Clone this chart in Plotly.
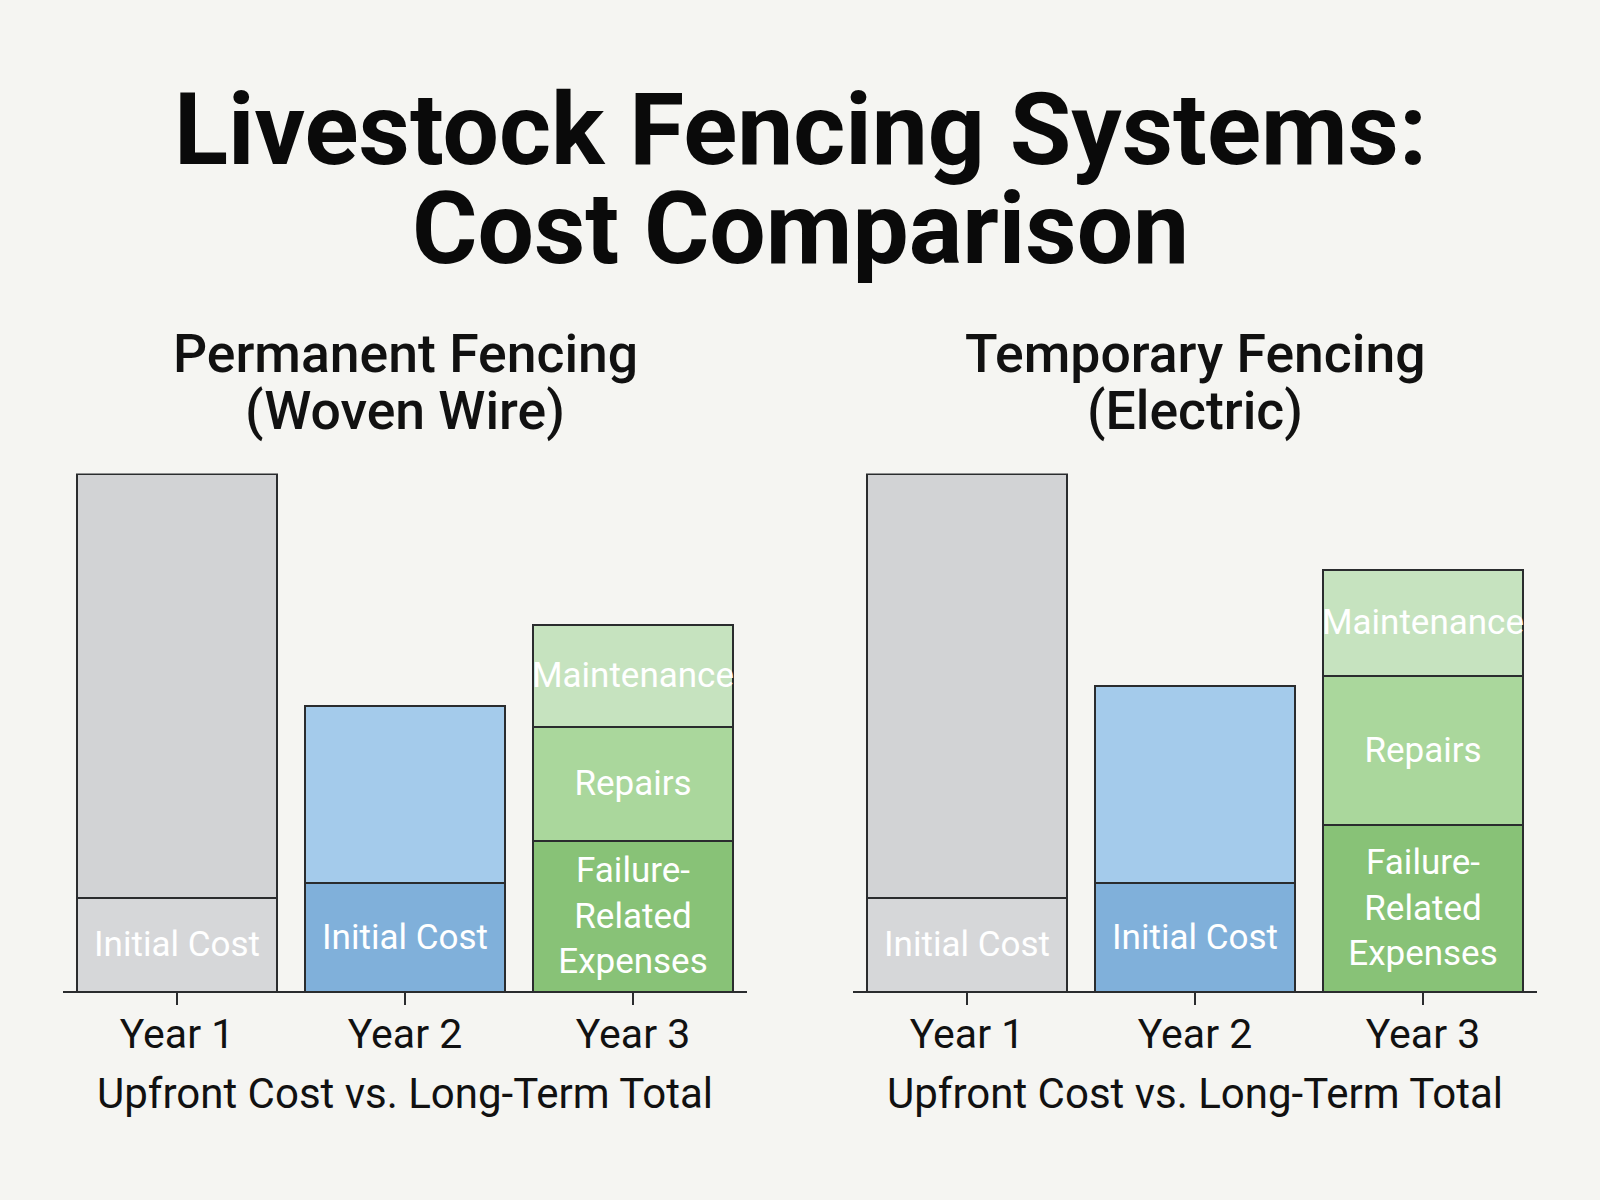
import plotly.graph_objects as go
from plotly.subplots import make_subplots

# ---- data ----
years = ["Year 1", "Year 2", "Year 3"]
upfront_years = ["Year 1", "Year 2"]
longterm_year = ["Year 3"]

perm_initial = [18.0, 20.9]
perm_upper = [82.0, 34.2]
perm_failure = [29.0]
perm_repairs = [22.1]
perm_maint = [19.7]

temp_initial = [18.0, 20.9]
temp_upper = [82.0, 38.1]
temp_failure = [32.2]
temp_repairs = [28.8]
temp_maint = [20.5]

panel_titles = [["Permanent Fencing", "(Woven Wire)"], ["Temporary Fencing", "(Electric)"]]
title_lines = ["Livestock Fencing Systems:", "Cost Comparison"]
x_title = "Upfront Cost vs. Long-Term Total"

# ---- style ----
BG = "#f5f5f2"
EDGE = "#2a2c2e"
lower_colors = ["#d6d7d9", "#80b0da"]
upper_colors = ["#d2d3d5", "#a4cbeb"]
c_fail = "#88c277"
c_rep = "#aad79c"
c_maint = "#c6e3bf"
FONT = "Roboto, Liberation Sans, Arial, sans-serif"
BW = 0.877

fig = make_subplots(rows=1, cols=2, horizontal_spacing=0.066)

panels = [
    (perm_initial, perm_upper, perm_failure, perm_repairs, perm_maint),
    (temp_initial, temp_upper, temp_failure, temp_repairs, temp_maint),
]

lbl_font = dict(family=FONT, size=35, color="white")
for i, (ini, up, fl, rp, mt) in enumerate(panels, start=1):
    common = dict(width=BW, textposition="inside", insidetextanchor="middle",
                  textangle=0, constraintext="none", insidetextfont=lbl_font,
                  hoverinfo="skip", showlegend=False)
    fig.add_trace(go.Bar(x=upfront_years, y=ini, text=["Initial Cost"] * 2,
                         marker=dict(color=lower_colors, line=dict(color=EDGE, width=2)),
                         **common), row=1, col=i)
    fig.add_trace(go.Bar(x=upfront_years, y=up, text=["", ""],
                         marker=dict(color=upper_colors, line=dict(color=EDGE, width=2)),
                         **common), row=1, col=i)
    fig.add_trace(go.Bar(x=longterm_year, y=fl, text=["Failure-<br>Related<br>Expenses"],
                         marker=dict(color=c_fail, line=dict(color=EDGE, width=2)),
                         **common), row=1, col=i)
    fig.add_trace(go.Bar(x=longterm_year, y=rp, text=["Repairs"],
                         marker=dict(color=c_rep, line=dict(color=EDGE, width=2)),
                         **common), row=1, col=i)
    fig.add_trace(go.Bar(x=longterm_year, y=mt, text=["Maintenance"],
                         marker=dict(color=c_maint, line=dict(color=EDGE, width=2)),
                         **common), row=1, col=i)

xdomains = [[63 / 1600, 747 / 1600], [853 / 1600, 1537 / 1600]]
ydom = [209 / 1200, 726.5 / 1200]
for i in (1, 2):
    fig.update_xaxes(row=1, col=i, domain=xdomains[i - 1], type="category",
                     categoryorder="array", categoryarray=years, range=[-0.5, 2.5],
                     showline=True, linecolor=EDGE, linewidth=2, ticks="outside",
                     ticklen=12, tickwidth=2, tickcolor=EDGE, showgrid=False, zeroline=False,
                     ticklabelstandoff=-6,
                     tickfont=dict(family=FONT, size=41, color="#111"),
                     title=dict(text=x_title, standoff=21,
                                font=dict(family=FONT, size=42, color="#111")))
    fig.update_yaxes(row=1, col=i, domain=ydom, range=[0, 100], visible=False)

annotations = []
# main title, one line per annotation
for txt, yc in zip(title_lines, [129, 229]):
    annotations.append(dict(text="<b>" + txt + "</b>", x=0.5, y=1 - yc / 1200,
                            xref="paper", yref="paper", showarrow=False,
                            xanchor="center", yanchor="middle",
                            font=dict(family=FONT, size=100, color="#0a0a0a")))
for (l1, l2), dom in zip(panel_titles, xdomains):
    cx = (dom[0] + dom[1]) / 2
    for txt, yc in zip([l1, l2], [354, 410]):
        annotations.append(dict(text=txt, x=cx, y=1 - yc / 1200, xref="paper", yref="paper",
                                showarrow=False, xanchor="center", yanchor="middle",
                                font=dict(family=FONT, size=53.5, color="#111", weight=500)))

fig.update_layout(width=1600, height=1200, barmode="stack", bargap=0,
                  paper_bgcolor=BG, plot_bgcolor=BG,
                  margin=dict(l=0, r=0, t=0, b=0), annotations=annotations)

fig.write_html("out.html", config={"displayModeBar": False},
               post_script="document.body.style.margin='0px';")
